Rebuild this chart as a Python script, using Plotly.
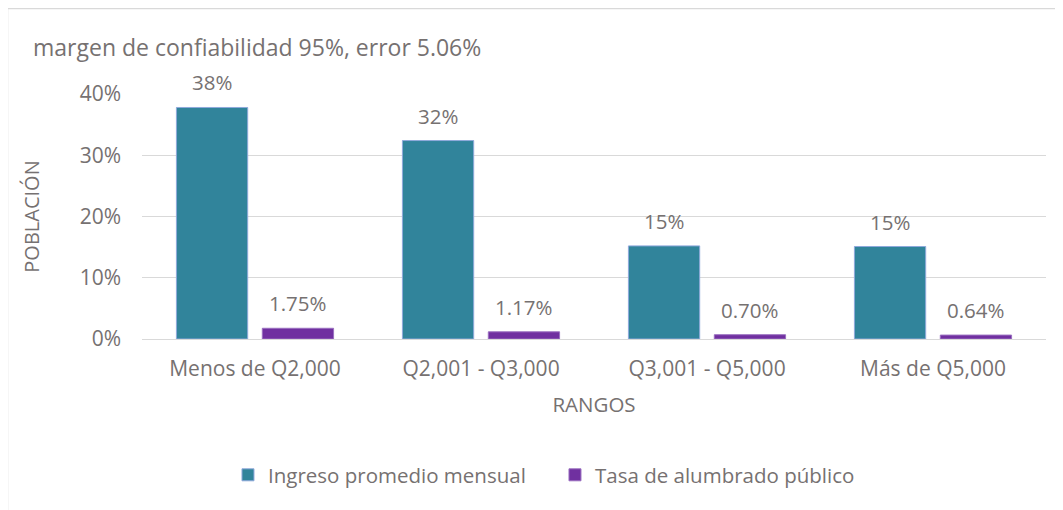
import plotly.graph_objects as go

categories = ["Menos de Q2,000", "Q2,001 - Q3,000", "Q3,001 - Q5,000", "Más de Q5,000"]
ingreso = [0.378, 0.324, 0.152, 0.151]
tasa = [0.0175, 0.0117, 0.0070, 0.0064]
series_names = ["Ingreso promedio mensual", "Tasa de alumbrado público"]
title_text = "margen de confiabilidad 95%, error 5.06%"
y_ticks = [0, 0.1, 0.2, 0.3, 0.4]

FONT = "Open Sans"
GRAY = "#767171"
TEAL = "#31849B"
PURPLE = "#7030A0"

fig = go.Figure()
fig.add_trace(go.Bar(name=series_names[0], x=categories, y=ingreso,
                     marker=dict(color=TEAL, line=dict(color="#8EA9DB", width=1))))
fig.add_trace(go.Bar(name=series_names[1], x=categories, y=tasa,
                     marker=dict(color=PURPLE, line=dict(color="#9A6FC0", width=1))))

annotations = []
for c, v in zip(categories, ingreso):
    annotations.append(dict(x=c, y=v, xref="x", yref="y", text=f"{v*100:.0f}%",
                            showarrow=False, xshift=-43, yshift=9, yanchor="bottom",
                            font=dict(family=FONT, size=20.5, color=GRAY)))
for c, v in zip(categories, tasa):
    annotations.append(dict(x=c, y=v, xref="x", yref="y", text=f"{v*100:.2f}%",
                            showarrow=False, xshift=43, yshift=9, yanchor="bottom",
                            font=dict(family=FONT, size=20.5, color=GRAY)))
annotations.append(dict(x=-0.1228, y=1.193, xref="paper", yref="paper", text=title_text,
                        showarrow=False, xanchor="left", yanchor="middle",
                        font=dict(family=FONT, size=23, color=GRAY)))

fig.update_layout(
    width=1055, height=502,
    margin=dict(l=134, r=17, t=86, b=171),
    paper_bgcolor="white", plot_bgcolor="white",
    barmode="group", bargap=0.24, bargroupgap=0.17,
    font=dict(family=FONT, size=21, color=GRAY),
    showlegend=True,
    legend=dict(orientation="h", x=0.0951, y=-0.555, xanchor="left", yanchor="middle",
                font=dict(family=FONT, size=20.5, color=GRAY), itemwidth=30,
                entrywidth=282, traceorder="normal"),
    annotations=annotations,
    shapes=[dict(type="rect", xref="paper", yref="paper", x0=-0.1488, x1=1.2,
                 y0=-1.0, y1=1.349, line=dict(color="#D9D9D9", width=1.5), layer="below")],
)
fig.update_yaxes(range=[0, 0.4], tickvals=y_ticks, tickformat=".0%",
                 showgrid=True, gridcolor="#D9D9D9", gridwidth=1,
                 zeroline=False, showline=False, ticks="", ticklabelstandoff=20,
                 tickfont=dict(family=FONT, size=21, color=GRAY),
                 title=dict(text="POBLACIÓN", standoff=34, font=dict(family=FONT, size=20, color=GRAY)))
fig.update_xaxes(showline=True, linecolor="#D9D9D9", linewidth=1, ticks="",
                 ticklabelstandoff=11,
                 tickfont=dict(family=FONT, size=21, color=GRAY),
                 title=dict(text="RANGOS", standoff=16, font=dict(family=FONT, size=20.5, color=GRAY)))

fig.write_html("out.html")
